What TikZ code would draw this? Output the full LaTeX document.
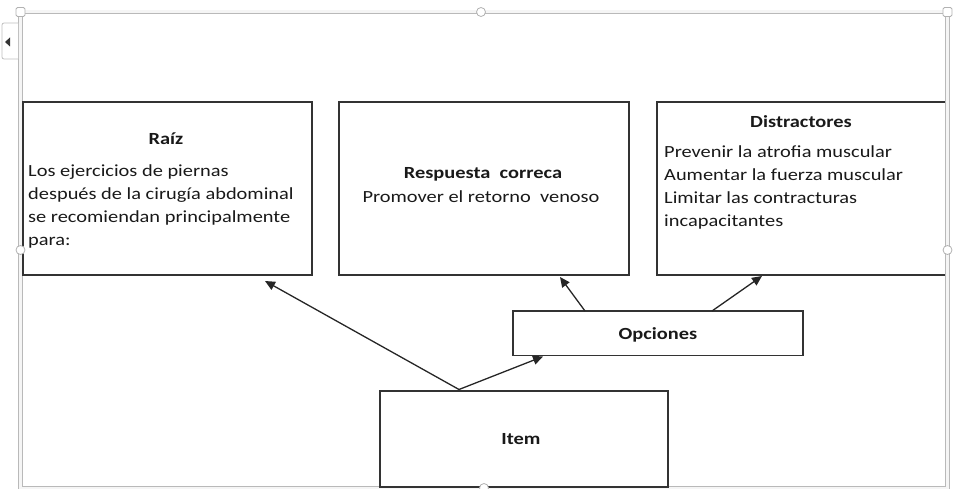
\documentclass[tikz,border=0pt]{standalone}
\usepackage{fontspec}
\setmainfont{Carlito}[FakeStretch=1.2]
\usetikzlibrary{arrows.meta,calc}
\begin{document}
\begin{tikzpicture}[x=1pt,y=-1pt,
  box/.style={draw=black!80, line width=1.4pt, inner sep=0pt, outer sep=0pt},
  openbox/.style={draw=none, inner sep=0pt, outer sep=0pt},
  boxline/.style={draw=black!80, line width=1.4pt},
  txt/.style={font=\fontsize{17}{22.7}\selectfont, inner sep=0pt, text=black!90},
  ttl/.style={font=\fontsize{17}{22.7}\selectfont\bfseries, inner sep=0pt, text=black!90},
  arr/.style={line width=1.3pt, draw=black!85, -{Triangle[length=10pt,width=9pt]}},
  frameline/.style={draw=gray!55, line width=0.9pt, double=gray!8, double distance=3pt},
  handle/.style={draw=gray!60, fill=white, line width=0.8pt},
  tab/.style={draw=gray!50, fill=white, line width=0.8pt, rounded corners=2pt}]
\useasboundingbox (0,0) rectangle (961,489);
% canvas frame
\draw[frameline] (20.5,12) rectangle (947.5,488);
\draw[tab] (18,23) -- (2,23) -- (2,59) -- (18,59);
\fill[black!80] (5,42) -- (10,37.5) -- (10,46.5) -- cycle;
% boxes
\node[box, minimum width=289pt, minimum height=173pt] (raiz) at (167.5,188.5) {};
\node[box, minimum width=290pt, minimum height=173pt] (resp) at (484,188.5) {};
\node[openbox, minimum width=288pt, minimum height=173pt] (distr) at (801,188.5) {};
\draw[boxline] (distr.north east) -- (distr.north west) -- (distr.south west) -- (distr.south east);
\node[box, minimum width=290pt, minimum height=44.5pt] (opc) at (658,333.25) {};
\node[box, minimum width=288pt, minimum height=96pt] (item) at (524,439) {};
% handles
\draw[handle, rounded corners=1.5pt] (16,7.5) rectangle (25,16.5);
\draw[handle, rounded corners=1.5pt] (943,7.5) rectangle (952,16.5);
\draw[handle] (481,12) circle (4.5);
\draw[handle] (20.5,250) circle (4.5);
\draw[handle] (947.5,250) circle (4.5);
\draw[handle] (484,488) circle (4.5);
% texts
\node[ttl, anchor=base] (raizT) at (166,145) {Raíz};
\foreach \t [count=\i] in {Los ejercicios de piernas, después de la cirugía abdominal, se recomiendan principalmente, para:}
  \node[txt, anchor=base west] (r\i) at (28,{177+22.7*(\i-1)}) {\t};
\node[ttl, anchor=base] (respT) at (483,179) {Respuesta\ \ correca};
\node[txt, anchor=base] (respB) at (481,203) {Promover el retorno\ \ venoso};
\node[ttl, anchor=base] (distrT) at (801,128) {Distractores};
\foreach \t [count=\i] in {Prevenir la atrofia muscular, Aumentar la fuerza muscular, Limitar las contracturas, incapacitantes}
  \node[txt, anchor=base west] (d\i) at (664,{158+22.7*(\i-1)}) {\t};
\node[ttl, anchor=base] (opcT) at (658,339) {Opciones};
\node[ttl, anchor=base] (itemT) at (521,444) {Item};
% connectors
\coordinate (apex) at ($(item.north west)+(79,-1.5)$);
\coordinate (tipR) at ($(raiz.south west)+(242,6)$);
\coordinate (tipO) at ($(opc.south west)+(30,1)$);
\coordinate (srcA) at ($(opc.north west)+(72,0)$);
\coordinate (srcB) at ($(opc.north west)+(199,0)$);
\coordinate (tipA) at ($(resp.south west)+(221,2)$);
\coordinate (tipB) at ($(distr.south west)+(105,1)$);
\draw[arr] (apex) -- (tipR);
\draw[arr] (apex) -- (tipO);
\draw[arr] (srcA) -- (tipA);
\draw[arr] (srcB) -- (tipB);
\end{tikzpicture}
\end{document}
